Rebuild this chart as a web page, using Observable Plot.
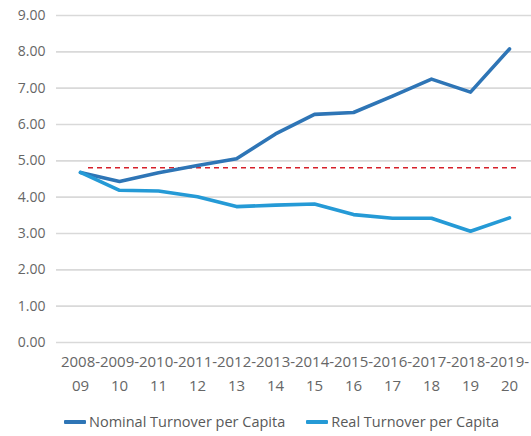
<!DOCTYPE html>
<html>
<head>
<meta charset="utf-8">
<script src="https://cdn.jsdelivr.net/npm/d3@7"></script>
<script src="https://cdn.jsdelivr.net/npm/@observablehq/plot@0.6"></script>
<style>
  html, body { margin: 0; padding: 0; background: #fff; }
  body { width: 531px; height: 436px; overflow: hidden; font-family: "Open Sans", sans-serif; }
  #legend { display: flex; align-items: center; margin-left: 64px; margin-top: 16px; font-size: 14.5px; color: #595959; }
  .item { display: flex; align-items: center; margin-right: 21px; }
  .sw { width: 22px; height: 4px; margin-right: 3px; border-radius: 1px; }
</style>
</head>
<body>
<div id="chart"></div>
<div id="legend"></div>
<script>
const years = ["2008-09","2009-10","2010-11","2011-12","2012-13","2013-14","2014-15","2015-16","2016-17","2017-18","2018-19","2019-20"];
const nominal = [4.68, 4.43, 4.67, 4.87, 5.06, 5.74, 6.28, 6.33, 6.78, 7.25, 6.89, 8.08];
const real = [4.68, 4.19, 4.17, 4.01, 3.74, 3.78, 3.81, 3.52, 3.42, 3.42, 3.06, 3.43];
const threshold = 4.81;
const yTicks = [0,1,2,3,4,5,6,7,8,9];
const seriesNames = ["Nominal Turnover per Capita", "Real Turnover per Capita"];
const colors = ["#2e75b6", "#259ad6"];

const rows = [];
years.forEach((y, i) => {
  rows.push({year: y, value: nominal[i], series: seriesNames[0]});
  rows.push({year: y, value: real[i], series: seriesNames[1]});
});

const chart = Plot.plot({
  width: 531,
  height: 396,
  marginLeft: 56,
  marginRight: -1,
  marginTop: 15,
  marginBottom: 54,
  style: {fontFamily: "Open Sans, sans-serif", fontSize: "14px", color: "#595959", background: "transparent"},
  x: {type: "point", domain: years, padding: 0.5},
  y: {domain: [0, 9]},
  color: {domain: seriesNames, range: colors},
  marks: [
    Plot.ruleY(yTicks, {stroke: "#d9d9d9", strokeWidth: 1.6}),
    Plot.axisY(yTicks, {tickSize: 0, tickPadding: 11, tickFormat: d => d.toFixed(2), fill: "#666", label: null}),
    Plot.axisX({tickSize: 0, tickPadding: 7, tickFormat: d => d.replace("-", "-\n"), lineHeight: 1.62, fontSize: 15, fill: "#666", label: null}),
    Plot.ruleY([threshold], {stroke: "#d6202a", strokeWidth: 1.4, strokeDasharray: "5,4", insetLeft: 32, insetRight: 12}),
    Plot.line(rows, {x: "year", y: "value", stroke: "series", strokeWidth: 3.6, strokeLinejoin: "round"})
  ]
});
document.getElementById("chart").appendChild(chart);

const legend = document.getElementById("legend");
seriesNames.forEach((n, i) => {
  const it = document.createElement("div");
  it.className = "item";
  const sw = document.createElement("span");
  sw.className = "sw";
  sw.style.background = colors[i];
  const t = document.createElement("span");
  t.textContent = n;
  it.appendChild(sw); it.appendChild(t);
  legend.appendChild(it);
});
</script>
</body>
</html>
